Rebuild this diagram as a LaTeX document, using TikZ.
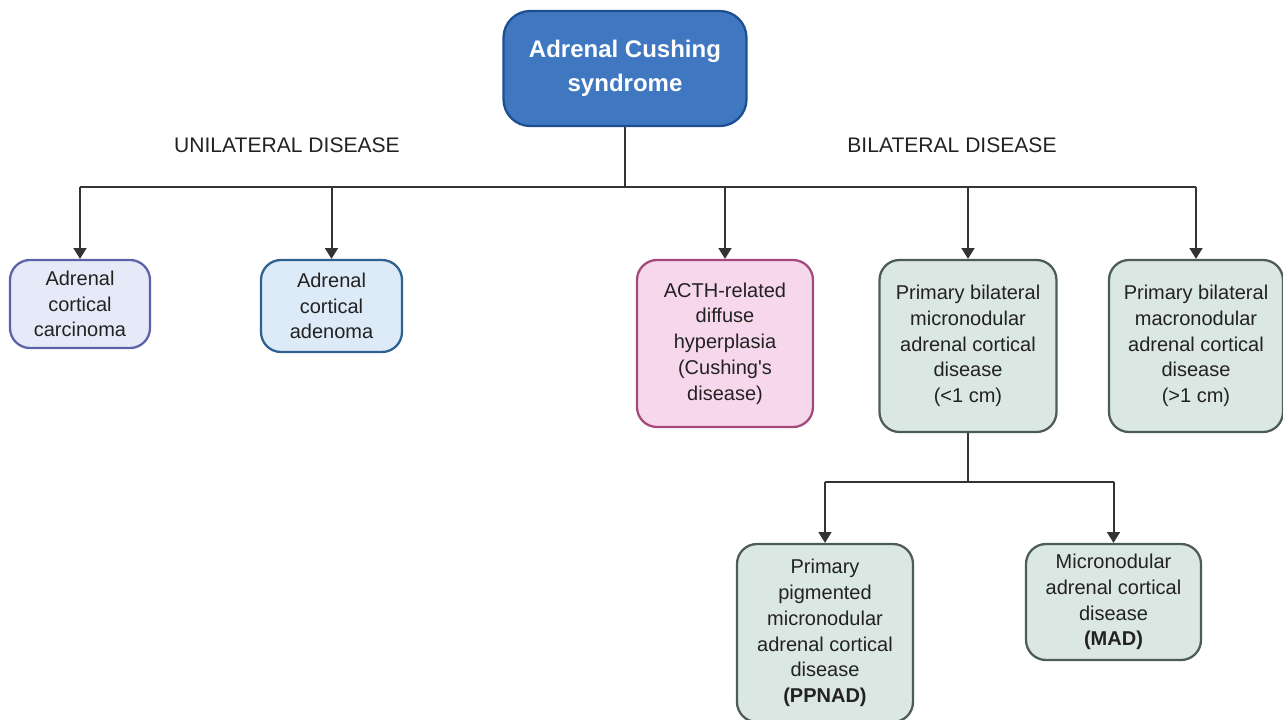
\documentclass[tikz,border=0pt]{standalone}
\usepackage{fontspec}
\setmainfont{Liberation Sans}
\usetikzlibrary{arrows.meta}
\definecolor{titlefill}{HTML}{3F78C1}
\definecolor{titledraw}{HTML}{1D4E8F}
\definecolor{cfill}{HTML}{E6EAF8}
\definecolor{cdraw}{HTML}{5B63A8}
\definecolor{afill}{HTML}{DDEBF8}
\definecolor{adraw}{HTML}{2F6190}
\definecolor{pfill}{HTML}{F6D7EC}
\definecolor{pdraw}{HTML}{A5497D}
\definecolor{gfill}{HTML}{DAE7E3}
\definecolor{gdraw}{HTML}{4D5C58}
\definecolor{txt}{HTML}{222222}
\definecolor{linec}{HTML}{333333}
\begin{document}
\begin{tikzpicture}[x=0.75pt,y=-0.75pt,
  box/.style={rectangle, rounded corners=15pt, line width=1.7pt, align=center,
    text=txt, font=\fontsize{15}{19.3}\selectfont, inner sep=0pt},
  titlebox/.style={rectangle, rounded corners=20pt, line width=1.7pt, align=center,
    fill=titlefill, draw=titledraw, text=white, inner sep=0pt,
    font=\fontsize{18}{25.5}\selectfont\bfseries},
  conn/.style={draw=linec, line width=1.5pt},
  arr/.style={conn, -{Triangle[length=8pt,width=9.5pt]}},
  lbl/.style={text=txt, font=\fontsize{15.8}{19}\selectfont}
]
\useasboundingbox (0,0) rectangle (1283,719);

\node[titlebox, minimum width=243*0.75pt, minimum height=115*0.75pt] (top) at (625,68.5) {Adrenal Cushing\\syndrome};

\node[lbl] (uni) at (287,145) {UNILATERAL DISEASE};
\node[lbl] (bil) at (952,145) {BILATERAL DISEASE};

\node[box, fill=cfill, draw=cdraw, minimum width=140*0.75pt, minimum height=88*0.75pt] (b1) at (80,304) {Adrenal\\cortical\\carcinoma};
\node[box, fill=afill, draw=adraw, minimum width=141*0.75pt, minimum height=92*0.75pt] (b2) at (331.5,306) {Adrenal\\cortical\\adenoma};
\node[box, fill=pfill, draw=pdraw, minimum width=176*0.75pt, minimum height=167*0.75pt] (b3) at (725,343.5) {ACTH-related\\diffuse\\hyperplasia\\(Cushing\textquotesingle s\\disease)};
\node[box, fill=gfill, draw=gdraw, minimum width=177*0.75pt, minimum height=172*0.75pt] (b4) at (968,346) {Primary bilateral\\micronodular\\adrenal cortical\\disease\\(<1 cm)};
\node[box, fill=gfill, draw=gdraw, minimum width=174*0.75pt, minimum height=172*0.75pt] (b5) at (1196,346) {Primary bilateral\\macronodular\\adrenal cortical\\disease\\(>1 cm)};
\node[box, fill=gfill, draw=gdraw, minimum width=176*0.75pt, minimum height=178*0.75pt] (b6) at (825,633) {Primary\\pigmented\\micronodular\\adrenal cortical\\disease\\\textbf{(PPNAD)}};
\node[box, fill=gfill, draw=gdraw, minimum width=175*0.75pt, minimum height=116*0.75pt] (b7) at (1113.5,602) {Micronodular\\adrenal cortical\\disease\\\textbf{(MAD)}};

\coordinate (j1) at (625,187);
\coordinate (jl) at (j1 -| b1.north);
\coordinate (jr) at (j1 -| b5.north);
\draw[conn] (top.south) -- (j1);
\draw[conn] (jl) -- (jr);
\draw[arr] (jl) -- (b1.north);
\draw[arr] (j1 -| b2.north) -- (b2.north);
\draw[arr] (j1 -| b3.north) -- (b3.north);
\draw[arr] (j1 -| b4.north) -- (b4.north);
\draw[arr] (jr) -- (b5.north);

\coordinate (j2) at (968,482);
\coordinate (j2l) at (j2 -| b6.north);
\coordinate (j2r) at (j2 -| b7.north);
\draw[conn] (b4.south) -- (j2);
\draw[conn] (j2l) -- (j2r);
\draw[arr] (j2l) -- (b6.north);
\draw[arr] (j2r) -- (b7.north);
\end{tikzpicture}
\end{document}
